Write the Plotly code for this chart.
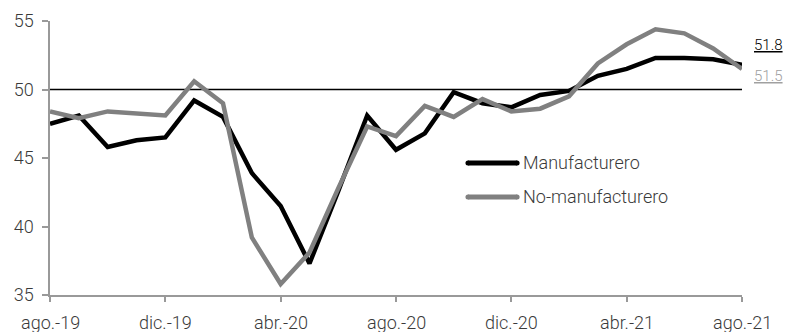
import plotly.graph_objects as go

months = ["ago.-19","sep.-19","oct.-19","nov.-19","dic.-19","ene.-20","feb.-20","mar.-20","abr.-20",
          "may.-20","jun.-20","jul.-20","ago.-20","sep.-20","oct.-20","nov.-20","dic.-20","ene.-21",
          "feb.-21","mar.-21","abr.-21","may.-21","jun.-21","jul.-21","ago.-21"]
manuf = [47.5, 48.1, 45.8, 46.3, 46.5, 49.2, 48.0, 43.9, 41.5, 37.3, 42.6, 48.1, 45.6,
         46.8, 49.8, 49.0, 48.7, 49.6, 49.9, 51.0, 51.5, 52.3, 52.3, 52.2, 51.8]
nomanuf = [48.4, 47.9, 48.4, 48.25, 48.1, 50.6, 49.0, 39.2, 35.8, 38.1, 42.8, 47.3, 46.6,
           48.8, 48.0, 49.3, 48.4, 48.6, 49.5, 51.9, 53.3, 54.4, 54.1, 53.0, 51.5]
series_names = ["Manufacturero", "No-manufacturero"]
threshold = 50
tick_idx = [0, 4, 8, 12, 16, 20, 24]
y_ticks = [35, 40, 45, 50, 55]

x = list(range(len(months)))
FONT = "Roboto, DejaVu Sans Condensed, sans-serif"
TXT = "#3a3a3a"
BLACK, GRAY = "#000000", "#808080"


def f(size, color=TXT):
    return dict(family=FONT, size=size, color=color, weight=300)


fig = go.Figure()
fig.add_trace(go.Scatter(x=x, y=manuf, mode="lines", name=series_names[0],
                         line=dict(color=BLACK, width=4.5), showlegend=False))
fig.add_trace(go.Scatter(x=x, y=nomanuf, mode="lines", name=series_names[1],
                         line=dict(color=GRAY, width=4.5), showlegend=False))

fig.add_shape(type="line", xref="x", yref="y", x0=0, x1=len(months)-1, y0=threshold, y1=threshold,
              line=dict(color="#000000", width=1.5), layer="below")

# manual legend with rounded line caps
LX0, LX1 = 0.604, 0.675
for name, col, ly in [(series_names[0], BLACK, 0.482), (series_names[1], GRAY, 0.358)]:
    fig.add_shape(type="line", xref="paper", yref="paper", x0=LX0, x1=LX1, y0=ly, y1=ly,
                  line=dict(color=col, width=5))
    for cx in (LX0, LX1):
        fig.add_shape(type="circle", xref="paper", yref="paper", xsizemode="pixel", ysizemode="pixel",
                      xanchor=cx, yanchor=ly, x0=-2.5, x1=2.5, y0=-2.5, y1=2.5,
                      fillcolor=col, line=dict(width=0))
    fig.add_annotation(x=0.680, y=ly, xref="paper", yref="paper", text=name, showarrow=False,
                       xanchor="left", yanchor="middle", font=f(18))

# x tick labels
for i in tick_idx:
    fig.add_annotation(x=i, xref="x", y=0, yref="paper", yshift=-15, text=months[i],
                       showarrow=False, xanchor="center", yanchor="top", font=f(18))

fig.add_annotation(x=1.0, xref="paper", xshift=10, y=manuf[-1], yshift=20, yref="y",
                   text="<u>%.1f</u>" % manuf[-1], showarrow=False, xanchor="left", yanchor="middle",
                   font=f(15, "#000000"))
fig.add_annotation(x=1.0, xref="paper", xshift=10, y=nomanuf[-1], yshift=-7, yref="y",
                   text="<u>%.1f</u>" % nomanuf[-1], showarrow=False, xanchor="left", yanchor="middle",
                   font=f(15, "#a0a0a0"))

fig.update_layout(
    width=788, height=332,
    margin=dict(l=49.5, r=46.3, t=20.7, b=36.7),
    plot_bgcolor="white", paper_bgcolor="white",
    font=f(18),
    showlegend=False,
)
fig.update_xaxes(range=[0, len(months)-1], tickvals=tick_idx, showticklabels=False,
                 showgrid=False, zeroline=False, showline=True, linecolor="#999999", linewidth=1.5,
                 ticks="outside", ticklen=5, tickcolor="#999999", tickwidth=1.5, automargin=False)
fig.update_yaxes(range=[35, 55], tickvals=y_ticks, showgrid=False, zeroline=False, showline=True,
                 linecolor="#999999", linewidth=1.5, ticks="outside", ticklen=6,
                 tickcolor="#999999", tickwidth=1.5, automargin=False, tickfont=f(18),
                 ticklabelstandoff=5)

fig.write_html("out.html", config={"displayModeBar": False},
               post_script="document.body.style.margin='0';document.body.style.padding='0';")
